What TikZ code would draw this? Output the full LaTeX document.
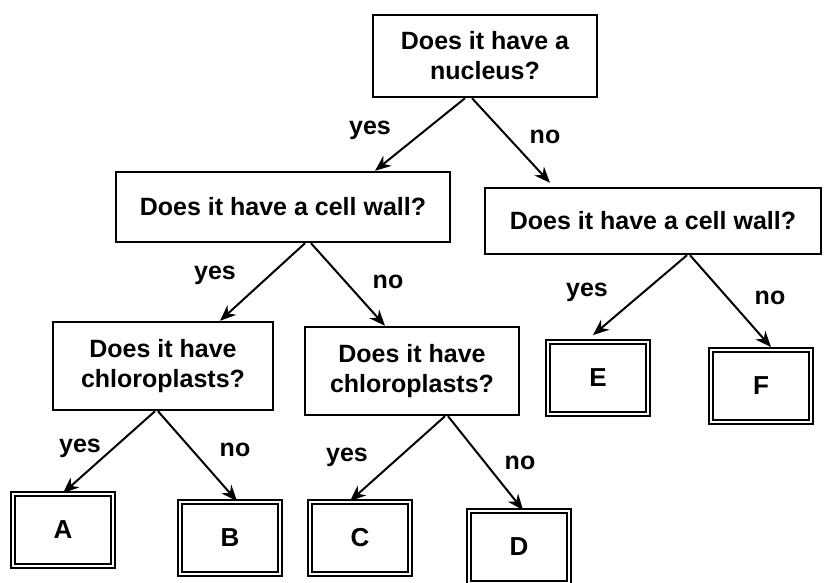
\documentclass[tikz,border=0pt]{standalone}
\usepackage{fontspec}
\setmainfont{Liberation Sans}
\usetikzlibrary{arrows.meta}
\tikzset{question/.style={draw,line width=1.2pt,align=center,font=\fontsize{12.5}{15}\selectfont\bfseries},
    leaf/.style={draw,double,line width=0.9pt,double distance=1.4pt,minimum width=50pt,minimum height=36pt,font=\fontsize{13}{15}\selectfont\bfseries},
    arr/.style={line width=1pt,-{Stealth[length=8pt,width=6.5pt]}},
    lbl/.style={font=\fontsize{12.5}{15}\selectfont\bfseries,inner sep=0pt}}

\begin{document}
\begin{tikzpicture}[x=0.5pt,y=-0.5pt]
            \useasboundingbox (0,0) rectangle (830,583);

            \node[question,minimum width=112pt,minimum height=41pt] (nucleus) at (485,56) {Does it have a\\nucleus?};
            \node[question,minimum width=167pt,minimum height=35pt] (wallL) at (283,207) {Does it have a cell wall?};
            \node[question,minimum width=168pt,minimum height=33pt] (wallR) at (653,221) {Does it have a cell wall?};
            \node[question,minimum width=110pt,minimum height=44pt] (chloroL) at (163,366) {Does it have\\chloroplasts?};
            \node[question,minimum width=107pt,minimum height=44pt] (chloroR) at (412,371) {Does it have\\chloroplasts?};

            \node[leaf] (A) at (63,530) {A};
            \node[leaf] (B) at (230,538) {B};
            \node[leaf] (C) at (360,538) {C};
            \node[leaf] (D) at (519,547) {D};
            \node[leaf] (E) at (598,378) {E};
            \node[leaf] (F) at (761,386) {F};

            \draw[arr] ([xshift=-10pt]nucleus.south) -- ([xshift=46pt]wallL.north);
            \draw[arr] ([xshift=-6.5pt]nucleus.south) -- ([xshift=-51.5pt,yshift=2pt]wallR.north);
            \draw[arr] ([xshift=11pt]wallL.south) -- ([xshift=28.5pt]chloroL.north);
            \draw[arr] ([xshift=14pt]wallL.south) -- ([xshift=-13.5pt]chloroR.north);
            \draw[arr] ([xshift=17pt]wallR.south) -- ([xshift=-2.5pt,yshift=3pt]E.north);
            \draw[arr] ([xshift=18.5pt]wallR.south) -- ([xshift=5pt,yshift=1pt]F.north);
            \draw[arr] ([xshift=-4pt]chloroL.south) -- (A.north);
            \draw[arr] ([xshift=-2.5pt]chloroL.south) -- ([xshift=3.5pt]B.north);
            \draw[arr] ([xshift=16.5pt]chloroR.south) -- ([xshift=-5pt]C.north);
            \draw[arr] ([xshift=18pt]chloroR.south) -- ([xshift=2pt]D.north);

            \node[lbl] (yes1) at (370,130) {yes};
            \node[lbl] (no1) at (545,137) {no};
            \node[lbl] (yes2) at (215,275) {yes};
            \node[lbl] (no2) at (388,282) {no};
            \node[lbl] (yes3) at (587,292) {yes};
            \node[lbl] (no3) at (770,298) {no};
            \node[lbl] (yes4) at (80,448) {yes};
            \node[lbl] (no4) at (235,450) {no};
            \node[lbl] (yes5) at (347,457) {yes};
            \node[lbl] (no5) at (520,463) {no};
        \end{tikzpicture}
\end{document}
